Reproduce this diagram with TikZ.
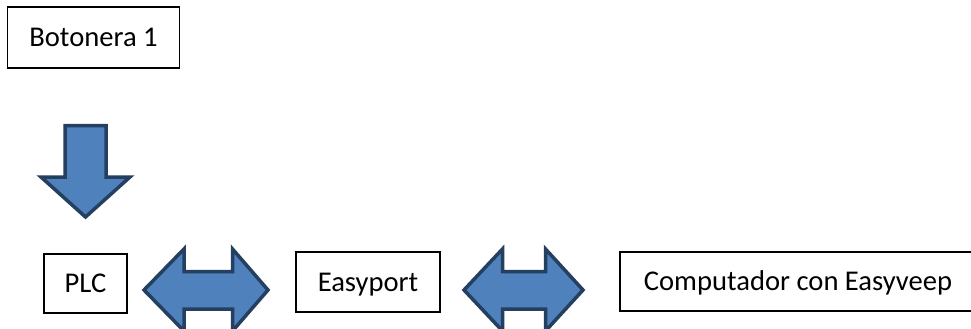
\documentclass[tikz,border=0pt]{standalone}
\usepackage{fontspec}
\setmainfont{Carlito}
\definecolor{arrowfill}{HTML}{4F81BD}
\definecolor{arrowline}{HTML}{243F60}
\begin{document}
\begin{tikzpicture}[x=1pt,y=-1pt,
  box/.style={draw=black,line width=1.2pt,fill=white,inner sep=0pt,
    font=\fontsize{28.6}{32}\selectfont,text height=18pt,text depth=0pt},
  blockarrow/.style={fill=arrowfill,draw=arrowline,line width=3.5pt,line join=miter}]
\useasboundingbox (0,0) rectangle (971,329);
\clip (0,0) rectangle (971,329);
\node[box,minimum width=172pt,minimum height=61pt] (bot) at (93.5,37.5) {Botonera 1};
\node[box,minimum width=83pt,minimum height=59pt] (plc) at (85.5,283.5) {PLC};
\node[box,minimum width=144pt,minimum height=60pt] (easy) at (368,282) {Easyport};
\node[box,minimum width=356pt,minimum height=59pt] (comp) at (798,281.5) {Computador con Easyveep};
% down block arrow
\draw[blockarrow] (65,125.5) -- (106,125.5) -- (106,177) -- (130,177) -- (85.5,217) -- (41,177) -- (65,177) -- cycle;
% double block arrow PLC <-> Easyport
\draw[blockarrow] (144,290) -- (184,249) -- (184,271.5) -- (232.5,271.5) -- (232.5,249) -- (268,290)
  -- (232.5,331) -- (232.5,309) -- (184,309) -- (184,331) -- cycle;
% double block arrow Easyport <-> Computador
\draw[blockarrow] (464,290) -- (502.5,249) -- (502.5,271.5) -- (545.5,271.5) -- (545.5,249) -- (583,290)
  -- (545.5,331) -- (545.5,309) -- (502.5,309) -- (502.5,331) -- cycle;
\end{tikzpicture}
\end{document}
